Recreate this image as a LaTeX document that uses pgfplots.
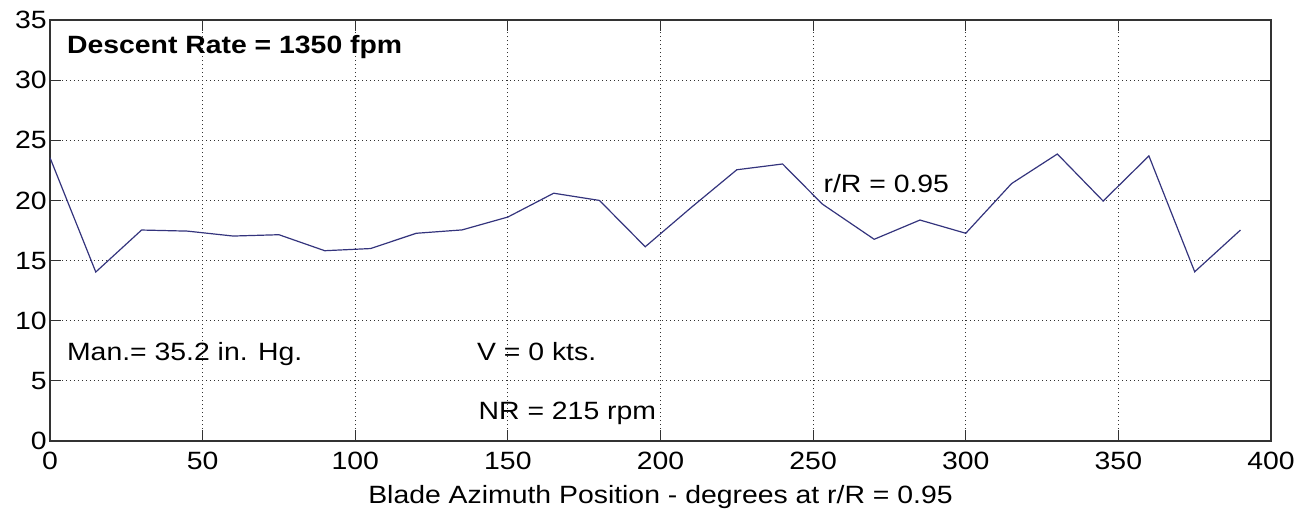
\documentclass[border=0pt]{standalone}
\usepackage{fontspec}
\setmainfont{Liberation Sans}[FakeStretch=1.135]
\usepackage{pgfplots}
\pgfplotsset{compat=1.18}
\definecolor{traceblue}{RGB}{52,52,125}

% blade azimuth (deg) vs. measured value at r/R = 0.95
\pgfplotstableread{
az    val
0     23.55
15    14.05
30    17.54
45    17.45
60    17.04
75    17.15
90    15.82
105   16.0
120   17.27
135   17.55
150   18.62
165   20.6
180   20.0
195   16.15
210   19.4
225   22.55
240   23.03
253   19.7
270   16.77
285   18.37
300   17.27
315   21.4
330   23.86
345   19.95
360   23.7
375   14.07
390   17.54
}\azdata

\begin{document}
\fontsize{12.5}{15}\selectfont
\begin{tikzpicture}
\path[use as bounding box] (-25pt,-34.5pt) rectangle (630pt,220.5pt);
\begin{axis}[
  scale only axis, width=610.5pt, height=210.5pt,
  at={(0,0)}, anchor=south west,
  xmin=0, xmax=400, ymin=0, ymax=35,
  xtick={0,50,...,400}, ytick={0,5,...,35},
  tick align=inside, major tick length=5.5pt,
  tick style={black!80, line width=0.6pt},
  axis line style={black!80, line width=0.6pt},
  grid=major,
  major grid style={black!80, line width=0.6pt, dash pattern=on 0.6pt off 1.4pt},
  /pgf/number format/assume math mode=true,
  ticklabel style={font=\fontsize{12.5}{15}\selectfont},
  xticklabel style={inner sep=0pt, yshift=-5.5pt},
  yticklabel style={inner sep=0pt, xshift=-1.5pt},
  xlabel={Blade Azimuth Position - degrees at r/R = 0.95},
  xlabel style={at={(axis description cs:0.5,0)}, anchor=north, inner sep=0pt, yshift=-22pt, font=\fontsize{12.5}{15}\selectfont},
]
\addplot[traceblue, line width=0.6pt] table[x=az, y=val] {\azdata};

\node[anchor=base west, inner sep=0pt, font=\fontsize{12.5}{15}\selectfont\bfseries] at (axis cs:5.47,32.23) {Descent Rate = 1350 fpm};
\node[anchor=base west, inner sep=0pt] at (axis cs:253.3,20.64) {r/R = 0.95};
\node[anchor=base west, inner sep=0pt] at (axis cs:5.47,6.73) {Man.= 35.2 in. Hg.};
\node[anchor=base west, inner sep=0pt] at (axis cs:139.8,6.73) {V = 0 kts.};
\node[anchor=base west, inner sep=0pt] at (axis cs:140.3,1.80) {NR = 215 rpm};
\end{axis}
\end{tikzpicture}
\end{document}
